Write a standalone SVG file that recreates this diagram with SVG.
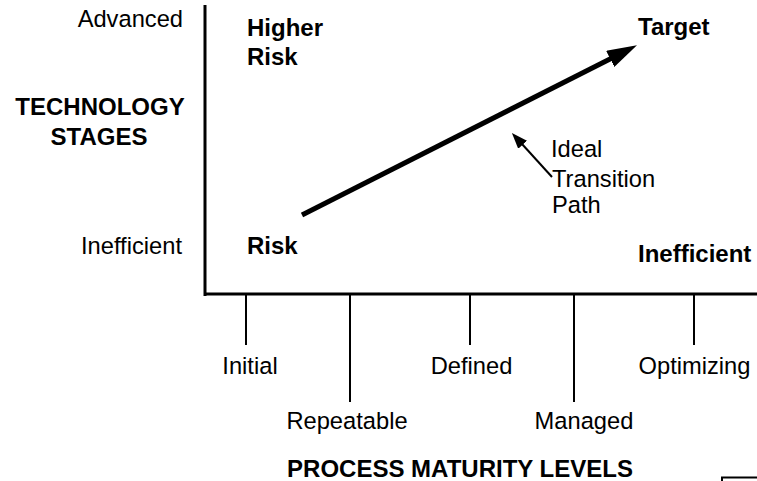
<svg xmlns="http://www.w3.org/2000/svg" width="757" height="481" viewBox="0 0 757 481">
<style>
text{font-family:"Liberation Sans",Arial,sans-serif;font-size:23.7px;fill:#000}
.b{font-weight:bold;font-size:24px}
.ax{stroke:#000;stroke-width:3;fill:none}
.tk{stroke:#000;stroke-width:2;fill:none}
</style>
<defs>
<marker id="bigHead" markerUnits="userSpaceOnUse" markerWidth="30" markerHeight="18" viewBox="0 0 30 18" refX="2" refY="9" orient="auto"><path d="M0,0 L30,9 L0,18 z" fill="#000"/></marker>
<marker id="smallHead" markerUnits="userSpaceOnUse" markerWidth="16" markerHeight="12" viewBox="0 0 16 12" refX="1" refY="6" orient="auto"><path d="M0,0 L16,6 L0,12 z" fill="#000"/></marker>
</defs>
<rect width="757" height="481" fill="#fff"/>
<g id="axes">
<line class="ax" x1="205" y1="5" x2="205" y2="296"/>
<line class="ax" x1="204" y1="294" x2="757" y2="294"/>
<line class="tk" x1="246" y1="294" x2="246" y2="345"/>
<line class="tk" x1="350" y1="294" x2="350" y2="402"/>
<line class="tk" x1="470" y1="294" x2="470" y2="345"/>
<line class="tk" x1="574" y1="294" x2="574" y2="402"/>
<line class="tk" x1="694" y1="294" x2="694" y2="345"/>
<path class="tk" d="M722,481 V477.5 H757"/>
</g>
<g id="connectors">
<line x1="302" y1="215" x2="612" y2="58" stroke="#000" stroke-width="5" marker-end="url(#bigHead)"/>
<line x1="552" y1="177" x2="522" y2="144" stroke="#000" stroke-width="2" marker-end="url(#smallHead)"/>
</g>
<g id="y-axis-labels">
<text x="183" y="27" text-anchor="end">Advanced</text>
<text x="182" y="254" text-anchor="end">Inefficient</text>
<text class="b" x="100" y="115" text-anchor="middle">TECHNOLOGY</text>
<text class="b" x="99" y="145" text-anchor="middle">STAGES</text>
</g>
<g id="higher-risk"><text class="b" x="247" y="36">Higher</text><text class="b" x="247" y="65">Risk</text></g>
<g id="risk"><text class="b" x="247" y="254">Risk</text></g>
<g id="target"><text class="b" x="638" y="35">Target</text></g>
<g id="inefficient"><text class="b" x="638" y="262">Inefficient</text></g>
<g id="ideal-path"><text x="551" y="157">Ideal</text><text x="552" y="187">Transition</text><text x="552" y="213">Path</text></g>
<g id="levels">
<text x="250" y="374" text-anchor="middle">Initial</text>
<text x="347" y="429" text-anchor="middle">Repeatable</text>
<text x="471.5" y="374" text-anchor="middle">Defined</text>
<text x="584" y="429" text-anchor="middle">Managed</text>
<text x="694.5" y="374" text-anchor="middle">Optimizing</text>
<text class="b" x="460" y="477" text-anchor="middle">PROCESS MATURITY LEVELS</text>
</g>
</svg>
